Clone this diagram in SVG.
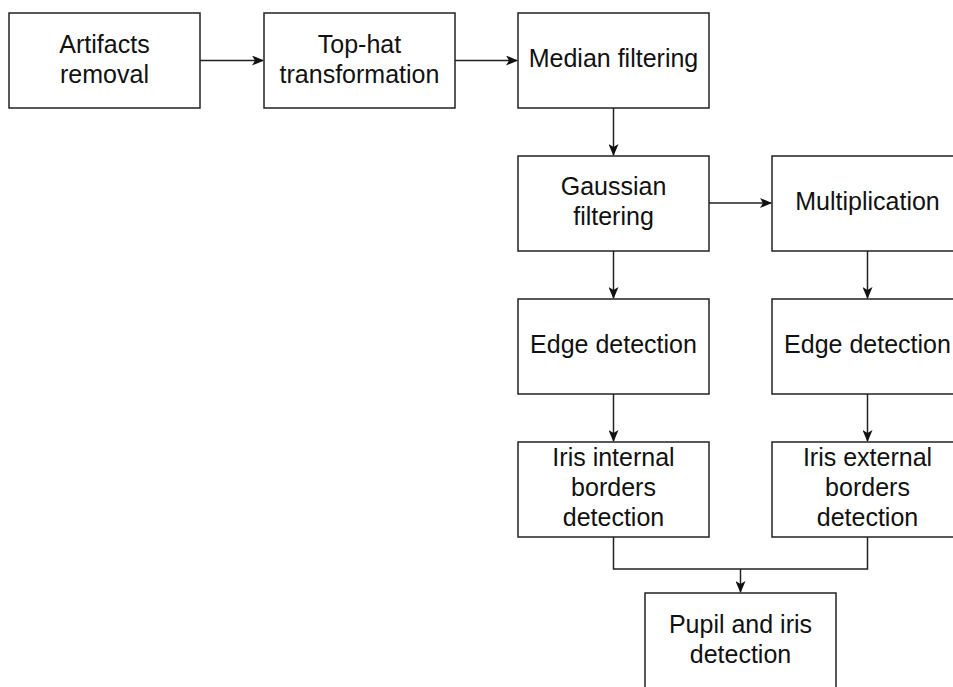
<svg xmlns="http://www.w3.org/2000/svg" width="953" height="687" viewBox="0 0 953 687">
<style>
.box{fill:#fff;stroke:#222;stroke-width:1.5}
.lbl{font-family:"Liberation Sans",Arial,sans-serif;font-size:25px;fill:#111;text-anchor:middle}
.con{fill:none;stroke:#222;stroke-width:1.5}
</style>
<defs>
<marker id="arr" markerUnits="userSpaceOnUse" markerWidth="12" markerHeight="10" refX="11" refY="5" orient="auto" viewBox="0 0 12 10">
<path d="M0,0 L12,5 L0,10 L3,5 z" fill="#111"/>
</marker>
</defs>
<rect width="953" height="687" fill="#fff"/>
<g id="connectors">
<line class="con" x1="200" y1="60.5" x2="263" y2="60.5" marker-end="url(#arr)"/>
<line class="con" x1="455" y1="60.5" x2="517" y2="60.5" marker-end="url(#arr)"/>
<line class="con" x1="613.5" y1="108" x2="613.5" y2="155" marker-end="url(#arr)"/>
<line class="con" x1="709" y1="203" x2="771" y2="203" marker-end="url(#arr)"/>
<line class="con" x1="613.5" y1="251" x2="613.5" y2="298" marker-end="url(#arr)"/>
<line class="con" x1="867.5" y1="251" x2="867.5" y2="298" marker-end="url(#arr)"/>
<line class="con" x1="613.5" y1="394" x2="613.5" y2="441" marker-end="url(#arr)"/>
<line class="con" x1="867.5" y1="394" x2="867.5" y2="441" marker-end="url(#arr)"/>
<polyline class="con" points="613.5,537 613.5,569 867.5,569 867.5,537"/>
<line class="con" x1="740.5" y1="569" x2="740.5" y2="592" marker-end="url(#arr)"/>
</g>
<g id="artifacts">
<rect class="box" x="9" y="13" width="191" height="95"/>
<text class="lbl" x="104.5" y="53">Artifacts</text>
<text class="lbl" x="104.5" y="83">removal</text>
</g>
<g id="tophat">
<rect class="box" x="264" y="13" width="191" height="95"/>
<text class="lbl" x="359.5" y="53">Top-hat</text>
<text class="lbl" x="359.5" y="83">transformation</text>
</g>
<g id="median">
<rect class="box" x="518" y="13" width="191" height="95"/>
<text class="lbl" x="613.5" y="67">Median filtering</text>
</g>
<g id="gaussian">
<rect class="box" x="518" y="156" width="191" height="95"/>
<text class="lbl" x="613.5" y="195">Gaussian</text>
<text class="lbl" x="613.5" y="225">filtering</text>
</g>
<g id="multiplication">
<rect class="box" x="772" y="156" width="191" height="95"/>
<text class="lbl" x="867.5" y="210">Multiplication</text>
</g>
<g id="edge-left">
<rect class="box" x="518" y="299" width="191" height="95"/>
<text class="lbl" x="613.5" y="353">Edge detection</text>
</g>
<g id="edge-right">
<rect class="box" x="772" y="299" width="191" height="95"/>
<text class="lbl" x="867.5" y="353">Edge detection</text>
</g>
<g id="iris-internal">
<rect class="box" x="518" y="442" width="191" height="95"/>
<text class="lbl" x="613.5" y="466">Iris internal</text>
<text class="lbl" x="613.5" y="496">borders</text>
<text class="lbl" x="613.5" y="526">detection</text>
</g>
<g id="iris-external">
<rect class="box" x="772" y="442" width="191" height="95"/>
<text class="lbl" x="867.5" y="466">Iris external</text>
<text class="lbl" x="867.5" y="496">borders</text>
<text class="lbl" x="867.5" y="526">detection</text>
</g>
<g id="pupil">
<rect class="box" x="645" y="593" width="191" height="96"/>
<text class="lbl" x="740.5" y="633">Pupil and iris</text>
<text class="lbl" x="740.5" y="663">detection</text>
</g>
</svg>
